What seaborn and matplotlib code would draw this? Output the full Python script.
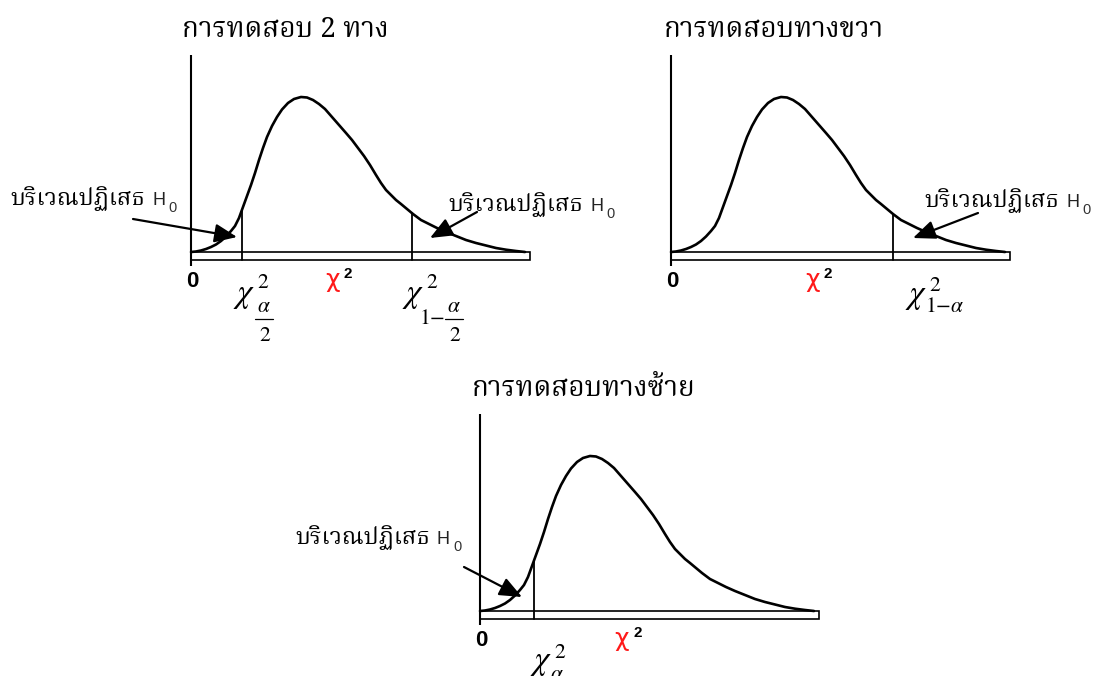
import matplotlib
matplotlib.use("Agg")
import matplotlib.pyplot as plt
from matplotlib import font_manager
from matplotlib.patches import Rectangle
import numpy as np
import seaborn as sns

# Chi-square density outline: horizontal position and height, in pixels from the origin
curve_x = [0, 5, 10, 15, 20, 25, 30, 35, 40, 44, 48, 52, 56, 60, 64, 68, 72, 76, 81,
           86, 91, 97, 103, 110, 116, 122, 128, 134, 141, 148, 155, 161, 167, 173, 179,
           185, 190, 195, 200, 205, 210, 216, 222, 230, 238, 246, 255, 265, 275, 285,
           295, 305, 315, 325, 334]
curve_y = [0, 0.5, 1.5, 3, 5, 7.5, 11, 15.5, 21, 26, 34, 45, 56, 67, 79, 92, 104, 115,
           126, 135, 142.5, 149, 153, 155, 154.5, 152, 148, 143, 135, 127, 119, 112,
           104, 96, 87, 77, 69, 62, 57, 52, 48, 43, 38, 32, 28, 24, 20, 16, 12, 9, 6.5,
           4, 2.3, 1, 0]
bar_length = 339
axis_top = 197

panel_titles = ["การทดสอบ 2 ทาง", "การทดสอบทางขวา", "การทดสอบทางซ้าย"]
region_text = "บริเวณปฏิเสธ"
stat_name = "χ"

crit_two = [51, 221]
crit_right = [222]
crit_left = [54]


def find_thai_family():
    from fontTools.ttLib import TTFont
    prefs = ["Norasi", "Kinnari", "Noto Serif Thai", "Noto Sans Thai Looped", "Garuda",
             "Loma", "Sarabun", "Noto Sans Thai", "Tlwg Typo", "TlwgTypo"]
    found = {}
    for f in font_manager.fontManager.ttflist:
        if f.name in found:
            continue
        try:
            tt = TTFont(f.fname, fontNumber=0, lazy=True)
            cmap = tt.getBestCmap() or {}
            if 0x0E01 in cmap and 0x0E0F in cmap:
                found[f.name] = f.fname
        except Exception:
            pass
    for p in prefs:
        if p in found:
            return p
    return next(iter(found), "DejaVu Sans")


sns.set_theme(style="white")
THAI = find_thai_family()
plt.rcParams["font.family"] = [THAI, "DejaVu Sans"]
plt.rcParams["mathtext.fontset"] = "stix"

W, H = 1094, 676
fig = plt.figure(figsize=(W / 100, H / 100), dpi=100)
fig.patch.set_facecolor("white")


def add_panel(ox, oy, x0, x1, y0, y1):
    ax = fig.add_axes([x0 / W, 1 - y1 / H, (x1 - x0) / W, (y1 - y0) / H])
    ax.set_xlim(x0 - ox, x1 - ox)
    ax.set_ylim(oy - y1, oy - y0)
    ax.set_axis_off()
    return ax


THAI_PT_TITLE = 20
THAI_PT_LABEL = 17
CHI_PT = 24
SCRIPT_PT = 15.5


def region_label(ax, x_end, y_base):
    """Thai caption ending at x_end, followed by H with subscript 0."""
    ax.text(x_end, y_base, region_text, ha="right", va="baseline",
            fontsize=THAI_PT_LABEL, color="black", clip_on=False)
    ax.text(x_end + 7, y_base, "H", ha="left", va="baseline", fontsize=13,
            family="Liberation Sans", color="#222222", clip_on=False)
    ax.text(x_end + 23, y_base - 7, "0", ha="left", va="baseline", fontsize=10.5,
            family="Liberation Sans", color="#333333", clip_on=False)


def arrow(ax, tail, tip):
    ax.annotate("", xy=tip, xytext=tail,
                arrowprops=dict(arrowstyle="-|>,head_length=0.62,head_width=0.26",
                                mutation_scale=22, lw=1.6, color="black",
                                shrinkA=0, shrinkB=0), annotation_clip=False)


def math(ax, x, y, s, size, ha="left"):
    ax.text(x, y, s, ha=ha, va="baseline", fontsize=size, color="black", clip_on=False)


def chi_label(ax, x, base, sup_base, sub=None, sub_base=None, sub_dx=20, frac=None):
    """Italic chi with a superscript 2 and a subscript (plain and/or fraction)."""
    math(ax, x, base, r"$\chi$", CHI_PT)
    math(ax, x + 24, sup_base, r"$2$", SCRIPT_PT)
    if sub is not None:
        math(ax, x + sub_dx, sub_base, sub, SCRIPT_PT)
    if frac is not None:
        cx = x + frac
        math(ax, cx, base - 10, r"$\alpha$", SCRIPT_PT, ha="center")
        ax.plot([cx - 9, cx + 9], [base - 16.5, base - 16.5], color="black", lw=0.9)
        math(ax, cx + 1, base - 39, r"$2$", SCRIPT_PT, ha="center")


def draw_panel(ax, title, title_x, crits):
    ax.add_patch(Rectangle((0, -8), bar_length, 8, facecolor="white",
                           edgecolor="black", lw=1.2, zorder=1))
    sns.lineplot(x=curve_x, y=curve_y, ax=ax, color="black", lw=1.9,
                 sort=False, estimator=None, zorder=3)
    for ln in ax.lines:
        ln.set_solid_joinstyle("round")
        ln.set_solid_capstyle("round")
    ax.plot([0, 0], [-14, axis_top], color="black", lw=1.5, zorder=4,
            solid_capstyle="butt")
    for c in crits:
        h = np.interp(c, curve_x, curve_y)
        ax.plot([c, c], [-8, h], color="black", lw=1.3, zorder=2)
    ax.text(title_x, 215, title, ha="center", va="baseline", fontsize=THAI_PT_TITLE,
            color="black", clip_on=False)
    ax.text(1, -35, "0", ha="center", va="baseline", fontsize=16, fontweight="bold",
            family=["Liberation Sans Narrow", "Liberation Sans"], color="black")
    ax.text(134, -35, stat_name, ha="left", va="baseline", fontsize=18,
            family="DejaVu Sans", color="#ff1a1a")
    ax.text(153, -26, "2", ha="left", va="baseline", fontsize=11, fontweight="bold",
            family="Liberation Sans", color="black")


# Two-tailed test
ax1 = add_panel(191, 252, 0, 640, 0, 345)
draw_panel(ax1, panel_titles[0], 94, crit_two)
chi_label(ax1, 42, -50, -36, frac=31)
chi_label(ax1, 211, -50, -36, sub=r"$1{-}$", sub_base=-72, sub_dx=17, frac=52)
region_label(ax1, -46, 47)
arrow(ax1, (-58, 33), (46, 15))
region_label(ax1, 392, 41)
arrow(ax1, (286, 40), (239, 14))

# Right-tailed test
ax2 = add_panel(671, 252, 640, 1094, 0, 345)
draw_panel(ax2, panel_titles[1], 103, crit_right)
chi_label(ax2, 234, -51, -39, sub=r"$1{-}\alpha$", sub_base=-60)
region_label(ax2, 388, 45)
arrow(ax2, (307, 39), (242, 14))

# Left-tailed test
ax3 = add_panel(480, 611, 260, 840, 345, 676)
draw_panel(ax3, panel_titles[2], 104, crit_left)
chi_label(ax3, 50, -58, -47, sub=r"$\alpha$", sub_base=-69)
region_label(ax3, -50, 67)
arrow(ax3, (-16, 44), (42, 14))

fig.savefig("out.png", dpi=100, facecolor="white")
